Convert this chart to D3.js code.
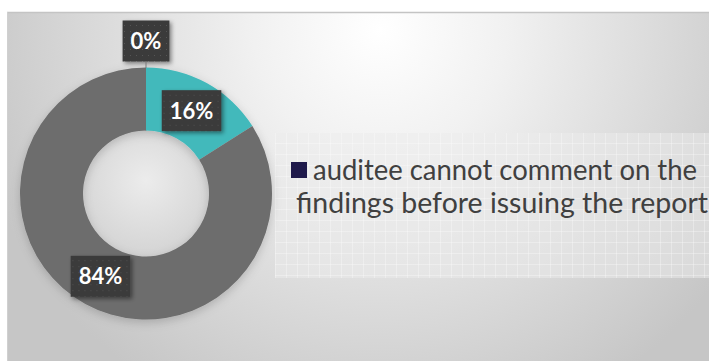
<!DOCTYPE html>
<html>
<head>
<meta charset="utf-8">
<script src="https://cdn.jsdelivr.net/npm/d3@7/dist/d3.min.js"></script>
<style>
  html, body { margin: 0; padding: 0; background: #ffffff; }
  svg { display: block; }
</style>
</head>
<body>
<svg id="chart" width="709" height="361"></svg>
<script>
// Share of responses per answer
const sliceValues = [0, 16, 84];
const sliceColors = ["#1f1a4b", "#42b9bb", "#6d6d6d"];
const valueLabels = ["0%", "16%", "84%"];
const legendLines = ["auditee cannot comment on the", "findings before issuing the report"];

const W = 709, H = 361;
const svg = d3.select("#chart");
const defs = svg.append("defs");

// Backdrop: soft radial light on grey
const bg = defs.append("radialGradient").attr("id", "bg")
  .attr("gradientUnits", "userSpaceOnUse")
  .attr("cx", 380).attr("cy", 30).attr("r", 420);
bg.append("stop").attr("offset", "0").attr("stop-color", "#ffffff");
bg.append("stop").attr("offset", "0.3").attr("stop-color", "#f1f1f1");
bg.append("stop").attr("offset", "1").attr("stop-color", "#c6c6c6");

// Glow inside the donut hole
const hole = defs.append("radialGradient").attr("id", "hole")
  .attr("cx", "50%").attr("cy", "40%").attr("r", "60%");
hole.append("stop").attr("offset", "0").attr("stop-color", "#ececec");
hole.append("stop").attr("offset", "1").attr("stop-color", "#d4d4d4");

// Dotted fill for the value boxes
const dots = defs.append("pattern").attr("id", "dots")
  .attr("patternUnits", "userSpaceOnUse").attr("width", 6).attr("height", 6);
dots.append("rect").attr("width", 6).attr("height", 6).attr("fill", "#3a3a3a");
dots.append("rect").attr("x", 2).attr("y", 2).attr("width", 1).attr("height", 1).attr("fill", "#555555");

// Fine grid for the legend panel
const grid = defs.append("pattern").attr("id", "grid")
  .attr("patternUnits", "userSpaceOnUse").attr("width", 11).attr("height", 11);
grid.append("rect").attr("width", 11).attr("height", 11).attr("fill", "#ebebeb").attr("fill-opacity", 0.5);
grid.append("rect").attr("width", 11).attr("height", 1).attr("fill", "#ffffff").attr("fill-opacity", 0.3);
grid.append("rect").attr("width", 1).attr("height", 11).attr("fill", "#ffffff").attr("fill-opacity", 0.3);

const shadow = defs.append("filter").attr("id", "shadow")
  .attr("x", "-30%").attr("y", "-30%").attr("width", "170%").attr("height", "170%");
shadow.append("feDropShadow").attr("dx", 2).attr("dy", 2).attr("stdDeviation", 2)
  .attr("flood-color", "#000").attr("flood-opacity", 0.45);

const ringShadow = defs.append("filter").attr("id", "ringShadow")
  .attr("x", "-20%").attr("y", "-20%").attr("width", "140%").attr("height", "140%");
ringShadow.append("feDropShadow").attr("dx", 0).attr("dy", 3).attr("stdDeviation", 5)
  .attr("flood-color", "#000").attr("flood-opacity", 0.18);

// Chart area
svg.append("rect").attr("x", 7).attr("y", 12).attr("width", W).attr("height", H)
  .attr("fill", "url(#bg)");
svg.append("line").attr("x1", 7).attr("x2", W).attr("y1", 12.5).attr("y2", 12.5)
  .attr("stroke", "#c4c4c4").attr("stroke-width", 1.5);
svg.append("line").attr("x1", 7.5).attr("x2", 7.5).attr("y1", 12).attr("y2", H)
  .attr("stroke", "#d0d0d0").attr("stroke-width", 1);

// Legend panel
svg.append("rect").attr("x", 275).attr("y", 133).attr("width", W - 275).attr("height", 145)
  .attr("fill", "url(#grid)");

// Donut
const cx = 146, cy = 193.5, rOuter = 126, rInner = 63;
const g = svg.append("g").attr("transform", `translate(${cx},${cy})`);

g.append("circle").attr("r", rInner).attr("fill", "url(#hole)");

const pie = d3.pie().sort(null).value(d => d);
const arcs = pie(sliceValues);
const arc = d3.arc().innerRadius(rInner).outerRadius(rOuter);

g.append("g").attr("filter", "url(#ringShadow)")
  .selectAll("path.slice").data(arcs).enter().append("path")
  .attr("class", "slice")
  .attr("d", arc)
  .attr("fill", (d, i) => sliceColors[i])
  .attr("stroke", d => d.data === 0 ? "#8a8a8a" : "none")
  .attr("stroke-width", 1);

// Value labels
const fontFamily = "Lato, 'Open Sans', sans-serif";
arcs.forEach((d, i) => {
  let pos;
  let outside = false;
  if (d.data === 0) {
    outside = true;
    const a = d.startAngle;
    const rr = 152.5;
    pos = [Math.sin(a) * rr, -Math.cos(a) * rr];
  } else {
    pos = arc.centroid(d);
  }
  const lg = g.append("g").attr("transform", `translate(${pos[0]},${pos[1]})`);
  const txt = lg.append("text")
    .attr("text-anchor", "middle").attr("dy", "0.36em")
    .attr("font-family", fontFamily).attr("font-weight", "bold")
    .attr("font-size", 22).attr("fill", "#ffffff")
    .text(valueLabels[i]);
  const tw = txt.node().getComputedTextLength();
  const bw = tw + 16, bh = 41;
  lg.insert("rect", "text")
    .attr("x", -bw / 2).attr("y", -bh / 2).attr("width", bw).attr("height", bh)
    .attr("fill", "url(#dots)").attr("filter", "url(#shadow)");
  if (outside) {
    const a = d.startAngle;
    g.append("line")
      .attr("x1", Math.sin(a) * (152.5 - bh / 2)).attr("y1", -Math.cos(a) * (152.5 - bh / 2))
      .attr("x2", Math.sin(a) * rOuter).attr("y2", -Math.cos(a) * rOuter)
      .attr("stroke", "#7a7a7a").attr("stroke-width", 1);
  }
});

// Legend (the wrapped label is set to fill its line widths)
const legendLineX = [313, 296];
const legendLineWidth = [384, 412];
const leg = svg.append("g");
leg.append("rect").attr("x", 291).attr("y", 162).attr("width", 16).attr("height", 16)
  .attr("fill", sliceColors[0]);
leg.selectAll("text").data(legendLines).enter().append("text")
  .attr("x", (d, i) => legendLineX[i])
  .attr("y", (d, i) => 180 + i * 33)
  .attr("font-family", fontFamily).attr("font-size", 28)
  .attr("fill", "#404040")
  .attr("textLength", (d, i) => legendLineWidth[i])
  .attr("lengthAdjust", "spacingAndGlyphs")
  .text(d => d);
</script>
</body>
</html>
